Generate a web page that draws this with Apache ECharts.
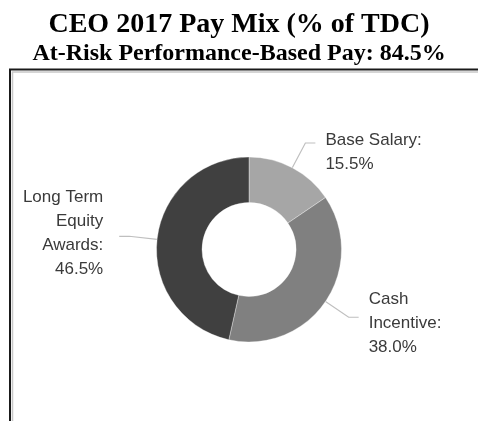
<!DOCTYPE html>
<html>
<head>
<meta charset="utf-8">
<script src="https://cdn.jsdelivr.net/npm/echarts@6/dist/echarts.min.js"></script>
<style>
  html, body { margin: 0; padding: 0; background: #fff; }
  #chart { width: 478px; height: 421px; }
</style>
</head>
<body>
<div id="chart"></div>
<script>
// pay mix slices, clockwise from 12 o'clock
const names = ['Base Salary', 'Cash\nIncentive', 'Long Term\nEquity\nAwards']
const values = [15.5, 38.0, 46.5]
const colors = ['#a6a6a6', '#808080', '#404040']
// nudges so the text sits where it does in the picture
const labelPads = [[0, 0, 0, 4], [0, 0, 0, 4], [0, 10, 0, 0]]
const labelDy = [9, 6, -3]

const chart = echarts.init(document.getElementById('chart'), null, { renderer: 'canvas' })

chart.setOption({
  backgroundColor: '#fff',
  animation: false,
  title: {
    text: 'CEO 2017 Pay Mix (% of TDC)',
    subtext: 'At-Risk Performance-Based Pay: 84.5%',
    left: 'center',
    top: 5,
    itemGap: 1,
    textStyle: {
      fontFamily: 'Liberation Serif',
      fontWeight: 'bold',
      fontSize: 28,
      lineHeight: 30,
      color: '#000'
    },
    subtextStyle: {
      fontFamily: 'Liberation Serif',
      fontWeight: 'bold',
      fontSize: 24,
      lineHeight: 26,
      color: '#000'
    }
  },
  // framed picture area (runs off the right and bottom edges)
  graphic: [
    {
      type: 'rect',
      silent: true,
      shape: { x: 10, y: 69.5, width: 520, height: 400 },
      style: { fill: 'none', stroke: '#1a1a1a', lineWidth: 2 }
    },
    {
      type: 'rect',
      silent: true,
      shape: { x: 12.5, y: 72, width: 520, height: 400 },
      style: { fill: 'none', stroke: '#c8c8c8', lineWidth: 1.5 }
    }
  ],
  series: [
    {
      type: 'pie',
      center: [249, 249.5],
      radius: [47, 92.5],
      startAngle: 90,
      clockwise: true,
      silent: true,
      avoidLabelOverlap: false,
      itemStyle: { borderColor: 'rgba(255,255,255,0.35)', borderWidth: 1 },
      label: {
        show: true,
        position: 'outside',
        fontFamily: 'Liberation Sans',
        fontSize: 17,
        lineHeight: 24,
        color: '#3a3a3a',
        distanceToLabelLine: 6,
        formatter: (p) => p.name + ':\n' + p.value.toFixed(1) + '%'
      },
      labelLine: {
        show: true,
        length: 28,
        length2: 10,
        lineStyle: { color: '#bfbfbf', width: 1.2 }
      },
      labelLayout: (params) => ({
        dy: labelDy[params.dataIndex],
        labelLinePoints: params.labelLinePoints
      }),
      data: names.map((n, i) => ({
        name: n,
        value: values[i],
        itemStyle: { color: colors[i] },
        label: { padding: labelPads[i] }
      }))
    }
  ]
})
</script>
</body>
</html>
